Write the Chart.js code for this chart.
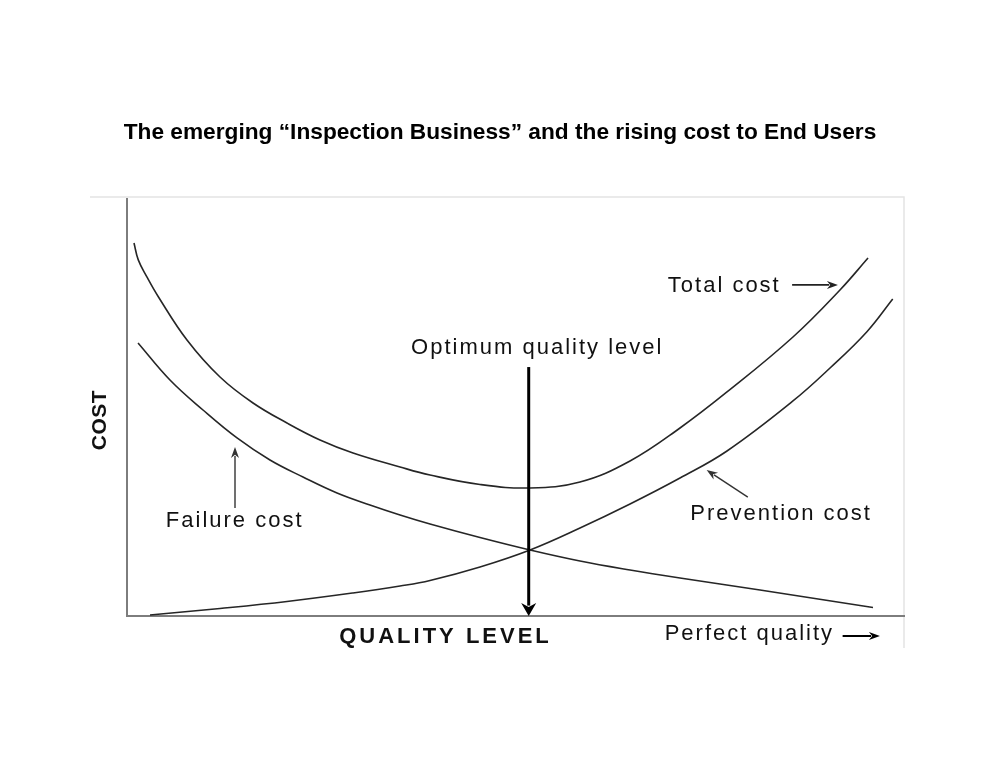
<!DOCTYPE html>
<html><head><meta charset="utf-8">
<script src="https://cdn.jsdelivr.net/npm/chart.js@4/dist/chart.umd.min.js"></script>
<style>html,body{margin:0;padding:0;background:#fff;} canvas{display:block;}</style>
</head><body>
<canvas id="c" width="1000" height="773"></canvas>
<script>
// ---- text ----
const titleText = 'The emerging \u201CInspection Business\u201D and the rising cost to End Users';
const xAxisLabel = 'QUALITY LEVEL';
const yAxisLabel = 'COST';

// ---- series (quality level 0-100, cost 0-100) ----
const totalX = [0.90, 1.45, 2.54, 4.03, 7.72, 11.97, 16.22, 20.59, 24.84, 29.09, 35.14, 39.00, 45.43, 51.87, 58.30, 64.74, 71.17, 77.22, 85.71, 91.76, 95.37];
const totalY = [89.45, 85.40, 81.40, 76.57, 66.19, 57.31, 51.08, 46.28, 42.21, 39.09, 35.73, 33.81, 31.53, 30.70, 32.13, 37.17, 45.08, 53.72, 66.91, 78.18, 85.85];

const failureX = [1.42, 5.53, 9.78, 14.16, 18.40, 22.65, 27.03, 31.27, 35.14, 39.00, 45.43, 51.87, 58.30, 64.74, 71.17, 81.47, 96.01];
const failureY = [65.47, 56.59, 49.40, 42.69, 37.41, 33.33, 29.50, 26.62, 24.22, 22.06, 18.82, 15.83, 13.19, 11.03, 9.11, 6.24, 2.04];

const preventionX = [2.96, 11.97, 20.59, 29.09, 35.14, 39.00, 45.43, 51.87, 58.30, 64.74, 71.17, 77.22, 85.71, 90.48, 95.20, 98.55];
const preventionY = [0.24, 1.80, 3.48, 5.52, 7.19, 8.51, 11.75, 15.83, 21.10, 26.86, 33.09, 39.57, 51.56, 59.47, 68.11, 76.02];

// ---- annotations (in data units) ----
const optimumLevel = 51.7;
const labelTexts = ['Optimum quality level', 'Total cost', 'Failure cost', 'Prevention cost', 'Perfect quality'];
const labelX = [52.8, 69.6, 5.0, 72.5, 69.2];
const labelY = [64.3, 79.2, 22.8, 24.5, -4.3];
const labelAlign = ['center', 'left', 'left', 'left', 'left'];

const pts = (xs, ys) => xs.map((v, i) => ({x: v, y: ys[i]}));

function arrow(ctx, x1, y1, x2, y2, lw, hl, hw, color) {
  const a = Math.atan2(y2 - y1, x2 - x1);
  ctx.save();
  ctx.strokeStyle = color; ctx.fillStyle = color; ctx.lineWidth = lw;
  ctx.beginPath();
  ctx.moveTo(x1, y1);
  ctx.lineTo(x2 - Math.cos(a) * hl * 0.8, y2 - Math.sin(a) * hl * 0.8);
  ctx.stroke();
  ctx.beginPath();
  ctx.moveTo(x2, y2);
  ctx.lineTo(x2 - Math.cos(a) * hl - Math.sin(a) * hw / 2, y2 - Math.sin(a) * hl + Math.cos(a) * hw / 2);
  ctx.lineTo(x2 - Math.cos(a) * hl * 0.7, y2 - Math.sin(a) * hl * 0.7);
  ctx.lineTo(x2 - Math.cos(a) * hl + Math.sin(a) * hw / 2, y2 - Math.sin(a) * hl - Math.cos(a) * hw / 2);
  ctx.closePath();
  ctx.fill();
  ctx.restore();
}

const decor = {
  id: 'decor',
  beforeDraw(chart) {
    const {ctx, chartArea: ca} = chart;
    ctx.save();
    ctx.strokeStyle = '#e4e4e4';
    ctx.lineWidth = 1.5;
    ctx.beginPath();
    ctx.moveTo(ca.left - 37, ca.top - 2);
    ctx.lineTo(ca.right, ca.top - 2);
    ctx.lineTo(ca.right, ca.bottom + 32);
    ctx.stroke();
    ctx.restore();
  },
  afterDraw(chart) {
    const {ctx, scales: {x, y}} = chart;
    const X = v => x.getPixelForValue(v), Y = v => y.getPixelForValue(v);
    const ink = '#111';
    ctx.save();
    // title
    ctx.fillStyle = '#000';
    ctx.font = 'bold 22.7px "Liberation Sans", Arial, sans-serif';
    ctx.textAlign = 'center'; ctx.textBaseline = 'middle';
    ctx.fillText(titleText, chart.width / 2, 133);

    // axis titles
    ctx.fillStyle = ink;
    ctx.font = 'bold 22px "Liberation Sans", Arial, sans-serif';
    ctx.letterSpacing = '3px';
    ctx.fillText(xAxisLabel, X(40.8) + 1.5, Y(-5.0));
    ctx.save();
    ctx.translate(X(-3.5), Y(47));
    ctx.rotate(-Math.PI / 2);
    ctx.letterSpacing = '0.5px';
    ctx.font = 'bold 21px "Liberation Sans", Arial, sans-serif';
    ctx.fillText(yAxisLabel, 0, 0);
    ctx.restore();

    // labels
    ctx.font = '22px "Liberation Sans", Arial, sans-serif';
    ctx.letterSpacing = '2px';
    labelTexts.forEach((t, i) => {
      ctx.textAlign = labelAlign[i];
      ctx.fillText(t, X(labelX[i]), Y(labelY[i]));
    });
    ctx.letterSpacing = '0px';

    // arrows
    arrow(ctx, X(optimumLevel), Y(59.7), X(optimumLevel), Y(0), 3, 13, 15, '#000');
    arrow(ctx, X(85.6), Y(79.4), X(91.5), Y(79.4), 1.6, 11, 8, '#222');
    arrow(ctx, X(13.9), Y(25.9), X(13.9), Y(40.5), 1.4, 11, 8, '#333');
    arrow(ctx, X(79.9), Y(28.5), X(74.6), Y(35.0), 1.4, 11, 8, '#333');
    arrow(ctx, X(92.1), Y(-4.8), X(96.9), Y(-4.8), 2, 11, 8, '#000');
    ctx.restore();
  }
};

const lineStyle = {borderColor: '#262626', borderWidth: 1.6, pointRadius: 0, fill: false, tension: 0.4, clip: false};

new Chart(document.getElementById('c'), {
  type: 'line',
  data: {
    datasets: [
      Object.assign({label: 'Total cost', data: pts(totalX, totalY)}, lineStyle),
      Object.assign({label: 'Failure cost', data: pts(failureX, failureY)}, lineStyle),
      Object.assign({label: 'Prevention cost', data: pts(preventionX, preventionY)}, lineStyle)
    ]
  },
  options: {
    responsive: false,
    animation: false,
    events: [],
    layout: {padding: {left: 127, top: 199, right: 96, bottom: 157}},
    plugins: {legend: {display: false}, title: {display: false}, tooltip: {enabled: false}},
    scales: {
      x: {type: 'linear', min: 0, max: 100, ticks: {display: false},
          grid: {display: false, drawTicks: false}, border: {display: true, color: '#7d7d7d', width: 2}},
      y: {type: 'linear', min: 0, max: 100, ticks: {display: false},
          grid: {display: false, drawTicks: false}, border: {display: true, color: '#7d7d7d', width: 2}}
    }
  },
  plugins: [decor]
});
</script>
</body></html>
